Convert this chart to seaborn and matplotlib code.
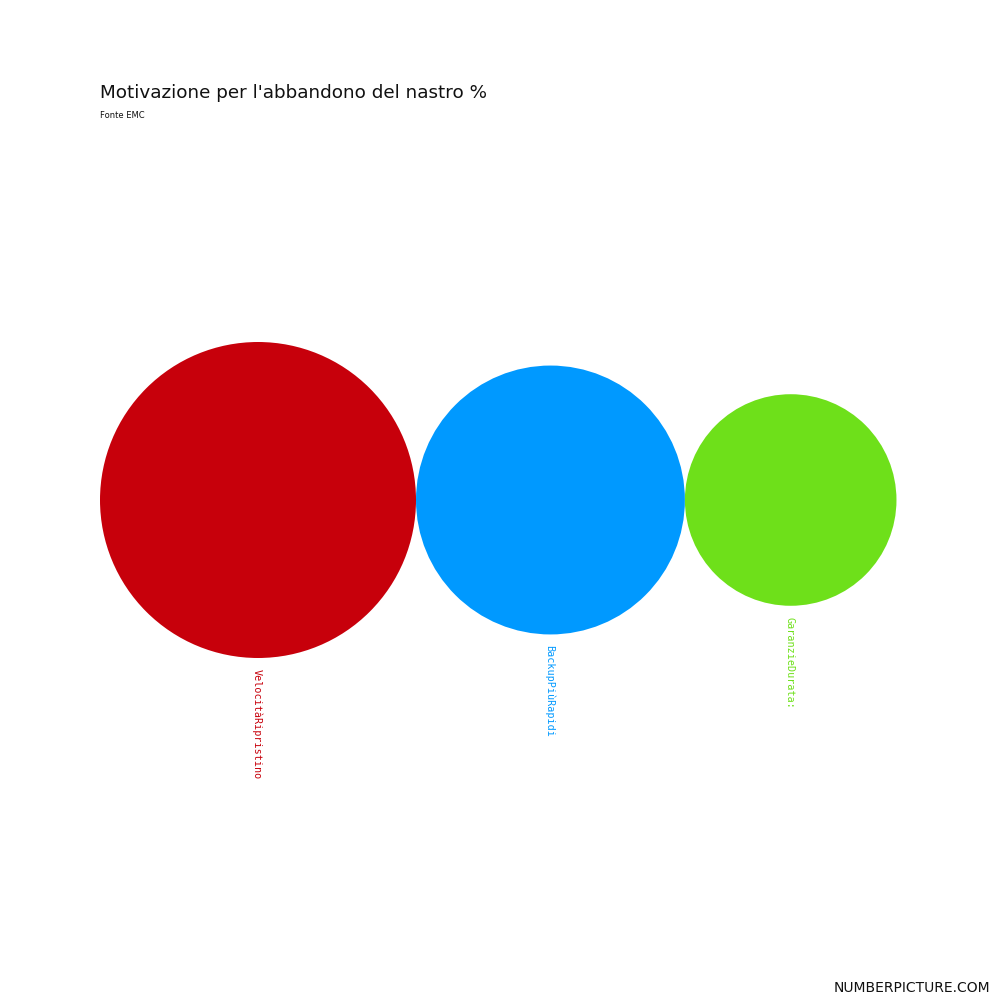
import numpy as np
import pandas as pd
import matplotlib
matplotlib.use("Agg")
import matplotlib.pyplot as plt
import seaborn as sns

# Data
categories = ["VelocitàRipristino", "BackupPiùRapidi", "GaranzieDurata:"]
values = [58, 42, 26]
colors = ["#C7000B", "#0099FF", "#6EE01A"]
title = "Motivazione per l'abbandono del nastro %"
subtitle = "Fonte EMC"
brand = "NUMBERPICTURE.COM"

sns.set_theme(style="white")
plt.rcParams['font.family'] = ['DejaVu Sans']

fig = plt.figure(figsize=(10, 10), dpi=100)
ax = fig.add_axes([0, 0, 1, 1])
ax.set_xlim(0, 1000)
ax.set_ylim(1000, 0)
ax.axis("off")

# Bubble layout: area proportional to value, circles tangent in a row
max_r = 158.0
k = max_r / np.sqrt(max(values))
radii = k * np.sqrt(np.array(values, dtype=float))
centers = []
x = 100.0
for r in radii:
    centers.append(x + r)
    x += 2 * r
cy = 500.0

px_to_pt = 72.0 / fig.dpi
df = pd.DataFrame({
    "cat": categories,
    "x": centers,
    "y": [cy] * len(categories),
    "size": [(2 * r * px_to_pt) ** 2 for r in radii],
})

sns.scatterplot(data=df, x="x", y="y", hue="cat", palette=dict(zip(categories, colors)),
                size="cat", sizes=dict(zip(categories, df["size"])),
                linewidth=0, legend=False, ax=ax, alpha=1, zorder=1)
ax.axis("off")

for cat, cx, r, col in zip(categories, centers, radii, colors):
    ax.text(cx - 1, cy + r + 11, cat, rotation=-90, ha="left", va="center",
            fontsize=7.3, color=col, rotation_mode="anchor", zorder=5,
            family="DejaVu Sans Mono")

ax.text(100, 93, title, fontsize=13.2, ha="left", va="center", color="#111111")
ax.text(100, 116, subtitle, fontsize=6, ha="left", va="center", color="#111111")
ax.text(990, 988, brand, fontsize=10, ha="right", va="center", color="#111111")

fig.savefig("out.png", dpi=100, facecolor="white")
